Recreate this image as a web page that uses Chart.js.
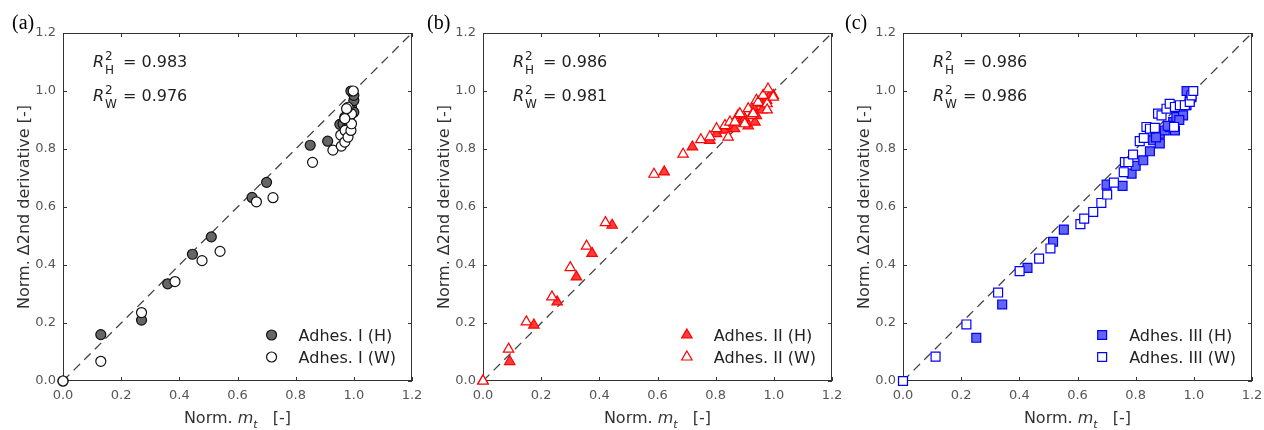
<!DOCTYPE html>
<html>
<head>
<meta charset="utf-8">
<script src="https://cdn.jsdelivr.net/npm/chart.js@4.4.1/dist/chart.umd.min.js"></script>
<style>
  body { margin: 0; background: #fff; overflow: hidden; width: 1264px; height: 430px; position: relative; }
  .panel { position: absolute; top: 0; }
</style>
</head>
<body>
<canvas id="chartA" class="panel" width="460" height="430" style="left:0px"></canvas>
<canvas id="chartB" class="panel" width="460" height="430" style="left:420px"></canvas>
<canvas id="chartC" class="panel" width="460" height="430" style="left:840px"></canvas>
<script>
// values
const tickValues = [0, 0.2, 0.4, 0.6, 0.8, 1.0, 1.2]
const diagX = [0, 1.2]
const diagY = [0, 1.2]

const panelLabels = ['(a)', '(b)', '(c)']
const r2H = ['0.983', '0.986', '0.986']
const r2W = ['0.976', '0.981', '0.986']
const legendH = ['Adhes. I (H)', 'Adhes. II (H)', 'Adhes. III (H)']
const legendW = ['Adhes. I (W)', 'Adhes. II (W)', 'Adhes. III (W)']

// (a) Adhes. I
const aHx = [0, 0.13, 0.27, 0.36, 0.445, 0.51, 0.65, 0.70, 0.85, 0.91, 0.952, 0.963, 0.969, 0.98, 0.992, 1.0, 1.0, 1.0, 0.99, 0.975, 0.985]
const aHy = [0, 0.16, 0.21, 0.335, 0.437, 0.497, 0.633, 0.685, 0.813, 0.827, 0.885, 0.887, 0.91, 0.927, 0.944, 0.927, 0.967, 0.985, 1.0, 0.87, 0.9]
const aWx = [0, 0.13, 0.27, 0.385, 0.478, 0.54, 0.665, 0.722, 0.858, 0.928, 0.955, 0.957, 0.969, 0.97, 0.98, 0.98, 0.99, 0.992, 0.992, 0.98, 0.975, 0.969, 0.998]
const aWy = [0, 0.068, 0.236, 0.343, 0.415, 0.447, 0.618, 0.632, 0.754, 0.796, 0.848, 0.81, 0.824, 0.864, 0.841, 0.898, 0.864, 0.887, 0.921, 0.944, 0.939, 0.905, 1.0]

// (b) Adhes. II
const bHx = [0, 0.092, 0.175, 0.255, 0.321, 0.375, 0.444, 0.623, 0.72, 0.78, 0.803, 0.831, 0.854, 0.865, 0.877, 0.89, 0.9, 0.912, 0.929, 0.935, 0.94, 0.958, 0.975, 0.986, 0.998, 0.96]
const bHy = [0, 0.067, 0.193, 0.273, 0.359, 0.44, 0.537, 0.721, 0.807, 0.83, 0.853, 0.865, 0.878, 0.87, 0.916, 0.9, 0.905, 0.88, 0.945, 0.893, 0.915, 0.956, 0.968, 0.984, 0.985, 0.935]
const bWx = [0, 0.088, 0.149, 0.237, 0.30, 0.356, 0.421, 0.588, 0.688, 0.749, 0.78, 0.803, 0.832, 0.843, 0.849, 0.866, 0.883, 0.9, 0.912, 0.923, 0.929, 0.94, 0.946, 0.963, 0.977, 0.977, 0.98, 0.998]
const bWy = [0, 0.11, 0.204, 0.29, 0.391, 0.465, 0.546, 0.713, 0.782, 0.832, 0.842, 0.87, 0.881, 0.841, 0.893, 0.893, 0.922, 0.887, 0.939, 0.916, 0.922, 0.968, 0.961, 0.985, 0.956, 0.935, 1.007, 0.979]

// (c) Adhes. III
const cHx = [0, 0.252, 0.341, 0.428, 0.516, 0.553, 0.70, 0.755, 0.786, 0.80, 0.826, 0.849, 0.86, 0.883, 0.9, 0.917, 0.929, 0.94, 0.963, 0.975, 0.986, 0.975, 0.992, 0.935, 0.883, 0.87, 0.95, 0.91]
const cHy = [0, 0.149, 0.264, 0.39, 0.48, 0.522, 0.677, 0.673, 0.715, 0.742, 0.761, 0.792, 0.83, 0.853, 0.864, 0.876, 0.893, 0.91, 0.916, 0.951, 0.968, 1.0, 0.979, 0.864, 0.819, 0.84, 0.9, 0.88]
const cWx = [0, 0.112, 0.218, 0.327, 0.401, 0.468, 0.507, 0.61, 0.623, 0.654, 0.682, 0.702, 0.725, 0.759, 0.763, 0.775, 0.791, 0.814, 0.828, 0.837, 0.849, 0.866, 0.877, 0.889, 0.906, 0.917, 0.935, 0.952, 0.932, 0.969, 0.986, 0.992, 0.998]
const cWy = [0, 0.084, 0.195, 0.305, 0.379, 0.422, 0.457, 0.541, 0.56, 0.583, 0.614, 0.643, 0.684, 0.72, 0.755, 0.755, 0.781, 0.827, 0.838, 0.876, 0.87, 0.873, 0.922, 0.916, 0.939, 0.956, 0.945, 0.951, 0.876, 0.951, 0.962, 0.985, 1.0]

const FONT = "'DejaVu Sans', Verdana, sans-serif"

function pts(xs, ys) {
    return xs.map((v, i) => ({ x: v, y: ys[i] }))
}

function drawMarker(ctx, style, x, y) {
    ctx.fillStyle = style.fill
    ctx.strokeStyle = style.stroke
    ctx.lineWidth = style.bw
    if (Chart.helpers && Chart.helpers.drawPoint) {
        Chart.helpers.drawPoint(ctx, { pointStyle: style.shape, radius: style.r, rotation: 0, borderWidth: style.bw }, x, y)
    }
}

// frame, inward ticks, labels and legend
const deco = {
    id: 'deco',
    beforeDatasetsDraw(chart, args, o) {
        const { ctx, chartArea: a, scales: { x, y } } = chart
        ctx.save()
        ctx.strokeStyle = '#333'
        ctx.lineWidth = 1
        ctx.strokeRect(Math.round(a.left) + 0.5, Math.round(a.top) + 0.5, Math.round(a.right - a.left) - 1, Math.round(a.bottom - a.top) - 1)
        ctx.beginPath()
        x.ticks.forEach(t => {
            const px = Math.round(x.getPixelForValue(t.value)) + 0.5
            ctx.moveTo(px, a.bottom); ctx.lineTo(px, a.bottom - 4)
            ctx.moveTo(px, a.top); ctx.lineTo(px, a.top + 4)
        })
        y.ticks.forEach(t => {
            const py = Math.round(y.getPixelForValue(t.value)) + 0.5
            ctx.moveTo(a.left, py); ctx.lineTo(a.left + 4, py)
            ctx.moveTo(a.right, py); ctx.lineTo(a.right - 4, py)
        })
        ctx.stroke()
        ctx.restore()
    },
    afterDraw(chart, args, o) {
        const { ctx, chartArea: a } = chart
        ctx.save()
        ctx.fillStyle = '#000'
        ctx.textBaseline = 'alphabetic'

        // panel letter
        ctx.font = "20px 'Liberation Serif', 'DejaVu Serif', serif"
        ctx.textAlign = 'left'
        ctx.fillText(o.label, o.labelX, 29)

        // R^2 annotations
        ctx.fillStyle = '#222'
        const rx = a.left + 30
        ;[[o.rh, 'H', 67], [o.rw, 'W', 101]].forEach(([val, sub, base]) => {
            ctx.font = 'italic 16px ' + FONT
            ctx.fillText('R', rx, base)
            const w = ctx.measureText('R').width
            ctx.font = '12px ' + FONT
            ctx.fillText('2', rx + w + 1, base - 7)
            ctx.fillText(sub, rx + w + 1, base + 7)
            ctx.font = '16px ' + FONT
            ctx.fillText('= ' + val, rx + 30, base)
        })

        // axis titles
        ctx.fillStyle = '#333'
        ctx.font = '16px ' + FONT
        ctx.save()
        ctx.translate(29, (a.top + a.bottom) / 2)
        ctx.rotate(-Math.PI / 2)
        ctx.textAlign = 'center'
        ctx.fillText('Norm. \u03942nd derivative [-]', 0, 0)
        ctx.restore()

        const parts = [
            ['Norm. ', '16px ' + FONT, 0],
            ['m', 'italic 16px ' + FONT, 0],
            ['t', 'italic 11px ' + FONT, 5],
            ['   [-]', '16px ' + FONT, 0]
        ]
        let total = 0
        parts.forEach(p => { ctx.font = p[1]; total += ctx.measureText(p[0]).width })
        let tx = (a.left + a.right) / 2 - total / 2
        ctx.textAlign = 'left'
        parts.forEach(p => {
            ctx.font = p[1]
            ctx.fillText(p[0], tx, 423 + p[2])
            tx += ctx.measureText(p[0]).width
        })

        // legend
        ctx.font = '16px ' + FONT
        const ds = chart.data.datasets
        const names = [o.lh, o.lw]
        const styles = [ds[1].mk, ds[0].mk]
        const wMax = Math.max(...names.map(n => ctx.measureText(n).width))
        const lx = a.right - 16 - wMax
        names.forEach((n, i) => {
            const cy = 335 + i * 22
            ctx.fillStyle = '#222'
            ctx.fillText(n, lx, cy + 6)
            drawMarker(ctx, styles[i], lx - 27, cy)
        })
        ctx.restore()
    }
}

function buildChart(id, idx, H, W, hStyle, wStyle, labelX) {
    const mkDs = (data, s) => ({
        data: data,
        pointStyle: s.shape,
        pointRadius: s.r,
        pointHoverRadius: s.r,
        pointBackgroundColor: s.fill,
        pointBorderColor: s.stroke,
        pointBorderWidth: s.bw,
        showLine: false,
        clip: false,
        mk: s
    })
    const axis = (fitFn) => ({
        type: 'linear',
        min: 0,
        max: 1.2,
        afterBuildTicks: s => { s.ticks = tickValues.map(v => ({ value: v })) },
        ticks: {
            callback: v => Number(v).toFixed(1),
            color: '#555',
            font: { family: FONT, size: 13 },
            padding: 7,
            maxRotation: 0,
            autoSkip: false
        },
        grid: { display: false, drawTicks: false },
        border: { display: false },
        afterFit: fitFn
    })

    return new Chart(document.getElementById(id), {
        type: 'scatter',
        data: {
            datasets: [
                mkDs(W, wStyle),
                mkDs(H, hStyle),
                {
                    type: 'line',
                    data: pts(diagX, diagY),
                    borderColor: '#444',
                    borderWidth: 1.3,
                    borderDash: [9, 6],
                    pointRadius: 0,
                    showLine: true,
                    fill: false
                }
            ]
        },
        options: {
            responsive: false,
            animation: false,
            devicePixelRatio: 1,
            layout: { padding: { left: 0, top: 33, right: 48, bottom: 0 } },
            scales: {
                x: axis(s => { s.height = 49 }),
                y: axis(s => { s.width = 63 })
            },
            plugins: {
                legend: { display: false },
                tooltip: { enabled: false },
                deco: {
                    label: panelLabels[idx], labelX: labelX,
                    rh: r2H[idx], rw: r2W[idx],
                    lh: legendH[idx], lw: legendW[idx]
                }
            }
        },
        plugins: [deco]
    })
}

buildChart('chartA', 0, pts(aHx, aHy), pts(aWx, aWy),
    { shape: 'circle', r: 5, fill: '#666666', stroke: '#111', bw: 1.2 },
    { shape: 'circle', r: 5, fill: '#ffffff', stroke: '#111', bw: 1.2 }, 12)
buildChart('chartB', 1, pts(bHx, bHy), pts(bWx, bWy),
    { shape: 'triangle', r: 6, fill: '#ff3b3b', stroke: '#ff0000', bw: 1.2 },
    { shape: 'triangle', r: 6, fill: '#ffffff', stroke: '#ff0000', bw: 1.2 }, 7)
buildChart('chartC', 2, pts(cHx, cHy), pts(cWx, cWy),
    { shape: 'rect', r: 6.3, fill: '#6464f2', stroke: '#0000ff', bw: 1.2 },
    { shape: 'rect', r: 6.3, fill: '#ffffff', stroke: '#0000ff', bw: 1.2 }, 5)
</script>
</body>
</html>
